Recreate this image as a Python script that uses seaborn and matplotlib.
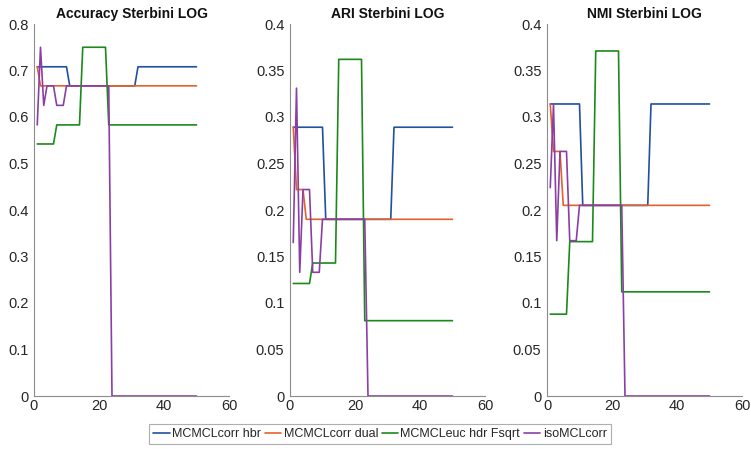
import matplotlib
matplotlib.use("Agg")
import matplotlib.pyplot as plt
from matplotlib.ticker import FuncFormatter, MultipleLocator
import numpy as np
import pandas as pd
import seaborn as sns

# iteration index
iterations = list(range(1, 51))

methods = ["MCMCLcorr hbr", "MCMCLcorr dual", "MCMCLeuc hdr Fsqrt", "isoMCLcorr"]
colors = ["#20509f", "#e2622c", "#1b8a1b", "#8b3fa6"]

# Accuracy per iteration
acc_hbr = [0.708] * 10 + [0.667] * 21 + [0.708] * 19
acc_dual = [0.708] + [0.667] * 49
acc_euc = [0.542] * 6 + [0.583] * 8 + [0.750] * 8 + [0.583] * 28
acc_iso = [0.583, 0.750, 0.625, 0.667, 0.667, 0.667, 0.625, 0.625, 0.625] + [0.667] * 14 + [0.0] * 27

# ARI per iteration
ari_hbr = [0.289] * 10 + [0.190] * 21 + [0.289] * 19
ari_dual = [0.289, 0.222, 0.222, 0.222] + [0.190] * 46
ari_euc = [0.121] * 6 + [0.143] * 8 + [0.362] * 8 + [0.081] * 28
ari_iso = [0.165, 0.331, 0.133, 0.222, 0.222, 0.222, 0.133, 0.133, 0.133] + [0.190] * 14 + [0.0] * 27

# NMI per iteration
nmi_hbr = [0.314] * 10 + [0.205] * 21 + [0.314] * 19
nmi_dual = [0.314, 0.263, 0.263, 0.263] + [0.205] * 46
nmi_euc = [0.088] * 6 + [0.166] * 8 + [0.371] * 8 + [0.112] * 28
nmi_iso = [0.224, 0.314, 0.167, 0.263, 0.263, 0.263, 0.167, 0.167, 0.167] + [0.205] * 14 + [0.0] * 27

panels = [
    ("Accuracy Sterbini LOG", [acc_hbr, acc_dual, acc_euc, acc_iso], 0.8, 0.1),
    ("ARI Sterbini LOG", [ari_hbr, ari_dual, ari_euc, ari_iso], 0.4, 0.05),
    ("NMI Sterbini LOG", [nmi_hbr, nmi_dual, nmi_euc, nmi_iso], 0.4, 0.05),
]

sns.set_theme(style="white")
plt.rcParams["font.family"] = ["Liberation Sans", "DejaVu Sans"]

W, H = 751, 449
fig = plt.figure(figsize=(W / 100, H / 100), dpi=100)

lefts = [34, 290, 547]
ax_w, ax_top, ax_bot = 195, 24, 396

fmt = FuncFormatter(lambda v, p: f"{v:.2f}".rstrip("0").rstrip(".") if v != 0 else "0")

handles = None
for (title, series, ymax, ystep), left in zip(panels, lefts):
    ax = fig.add_axes([left / W, (H - ax_bot) / H, ax_w / W, (ax_bot - ax_top) / H])
    df = pd.DataFrame({
        "iteration": np.tile(iterations, len(methods)),
        "value": np.concatenate(series),
        "method": np.repeat(methods, len(iterations)),
    })
    sns.lineplot(data=df, x="iteration", y="value", hue="method", hue_order=methods,
                 palette=colors, linewidth=1.2, ax=ax, legend=True)
    handles, labels = ax.get_legend_handles_labels()
    ax.get_legend().remove()
    ax.set_xlim(0, 60)
    ax.set_ylim(0, ymax)
    ax.xaxis.set_major_locator(MultipleLocator(20))
    ax.yaxis.set_major_locator(MultipleLocator(ystep))
    ax.yaxis.set_major_formatter(fmt)
    ax.set_xlabel("")
    ax.set_ylabel("")
    ax.set_title(title, fontsize=10, fontweight="bold", color="#111111", pad=4)
    for s in ["top", "right"]:
        ax.spines[s].set_visible(False)
    for s in ["left", "bottom"]:
        ax.spines[s].set_color("#8c8c8c")
        ax.spines[s].set_linewidth(0.8)
    ax.tick_params(direction="in", length=3, width=0.7, color="#8c8c8c",
                   labelsize=10.5, labelcolor="#262626", pad=2)
    ax.tick_params(axis="y", pad=4)

leg = fig.legend(handles, labels, loc="center", bbox_to_anchor=(380 / W, 1 - 434 / H),
                 ncol=4, fontsize=9, frameon=True, fancybox=False, handlelength=1.3,
                 handletextpad=0.2, columnspacing=0.3, borderpad=0.35, borderaxespad=0)
leg.get_frame().set_edgecolor("#9a9a9a")
leg.get_frame().set_linewidth(0.8)
for line in leg.get_lines():
    line.set_linewidth(1.2)

fig.savefig("out.png", dpi=100)
